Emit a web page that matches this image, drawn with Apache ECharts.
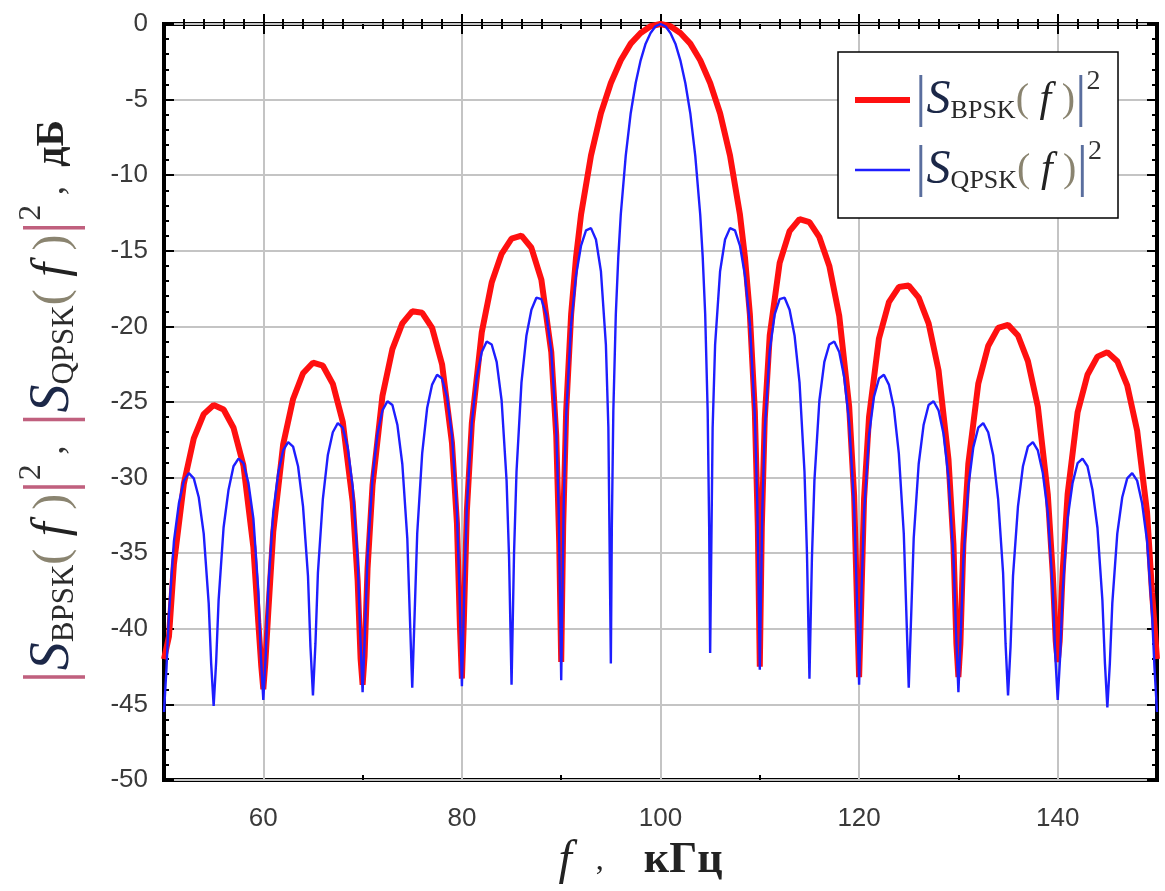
<!DOCTYPE html>
<html>
<head>
<meta charset="utf-8">
<script src="https://cdn.jsdelivr.net/npm/echarts@6/dist/echarts.min.js"></script>
<style>
html,body{margin:0;padding:0;background:#fff;}
#c{width:1165px;height:891px;}
</style>
</head>
<body>
<div id="c"></div>
<script>
// ---- data ----
const seriesNames = ['BPSK', 'QPSK'];
const xMajorTicks = [60, 80, 100, 120, 140];
const xMidTicks = [70, 90, 110, 130];
const xRange = [50, 150];
const yRange = [-50, 0];

// |S_BPSK(f)|^2, dB  : [f (kHz), level (dB)]
const bpsk = [
 [50,-42],[50.5,-40.5],[51,-35.7],[52,-30.4],[53,-27.4],[54,-25.8],[55,-25.2],[56,-25.5],[57,-26.7],[58,-29.2],[59,-34.6],[59.5,-39.6],[59.8,-42.5],
 [60,-44.0],[60.2,-42.3],[60.5,-38.9],[61,-33.6],[62,-27.8],[63,-24.8],[64,-23.1],[65,-22.4],[66,-22.6],[67,-23.8],[68,-26.3],[69,-31.6],[69.5,-36.8],[69.8,-42.0],
 [70,-43.7],[70.2,-41.8],[70.5,-36.0],[71,-30.5],[72,-24.6],[73,-21.5],[74,-19.8],[75,-19.0],[76,-19.1],[77,-20.1],[78,-22.5],[79,-27.7],[79.5,-33.0],[79.8,-39.8],
 [80,-43.3],[80.2,-39.4],[80.5,-32.2],[81,-26.4],[82,-20.4],[83,-17.1],[84,-15.2],[85,-14.2],[86,-14.0],[87,-14.8],[88,-16.9],[89,-21.7],[89.5,-27.2],[89.8,-34.3],
 [90,-42.2],[90.2,-33.2],[90.5,-25.6],[91,-19.2],[91.5,-15.4],[92,-12.6],[93,-8.7],[94,-5.9],[95,-3.9],[96,-2.4],[97,-1.3],[98,-0.6],[99,-0.15],
 [100,0],[101,-0.15],[102,-0.6],[103,-1.3],[104,-2.4],[105,-3.9],[106,-5.9],[107,-8.7],[108,-12.6],[108.5,-15.4],[109,-19.2],[109.5,-25.6],[109.8,-33.2],
 [110,-42.5],[110.2,-33.3],[110.5,-26.1],[111,-20.6],[112,-15.8],[113,-13.7],[114,-12.9],[115,-13.1],[116,-14.1],[117,-16.0],[118,-19.3],[119,-25.3],[119.5,-31.2],[119.8,-38.6],
 [120,-43.2],[120.2,-38.6],[120.5,-31.4],[121,-26.0],[122,-20.8],[123,-18.4],[124,-17.4],[125,-17.3],[126,-18.1],[127,-19.8],[128,-22.9],[129,-28.8],[129.5,-34.4],[129.8,-41.0],
 [130,-43.2],[130.2,-41.0],[130.5,-34.4],[131,-29.1],[132,-23.8],[133,-21.3],[134,-20.1],[135,-19.9],[136,-20.6],[137,-22.3],[138,-25.3],[139,-31.1],[139.5,-36.3],[139.8,-40.8],
 [140,-42.2],[140.2,-40.8],[140.5,-36.2],[141,-31.1],[142,-25.7],[143,-23.2],[144,-22.0],[145,-21.7],[146,-22.3],[147,-23.9],[148,-26.9],[149,-32.3],[149.5,-37.6],
 [150,-42]
];

// |S_QPSK(f)|^2, dB  : [f (kHz), level (dB)]
const qpsk = [
 [50,-45.5],[50.25,-42.6],[50.5,-39.0],[51,-34.2],[51.5,-31.7],[52,-30.2],[52.5,-29.7],[53,-30.05],[53.5,-31.3],[54,-33.7],[54.5,-38.3],[54.75,-42.3],
 [55,-45.1],[55.25,-42.2],[55.5,-38.1],[56,-33.3],[56.5,-30.8],[57,-29.25],[57.5,-28.75],[58,-29.05],[58.5,-30.35],[59,-32.7],[59.5,-37.5],[59.75,-41.8],
 [60,-44.7],[60.25,-41.7],[60.5,-37.3],[61,-32.3],[61.5,-29.7],[62,-28.2],[62.5,-27.65],[63,-27.95],[63.5,-29.25],[64,-31.9],[64.5,-36.5],[64.75,-41.2],
 [65,-44.4],[65.25,-41.0],[65.5,-36.3],[66,-31.4],[66.5,-28.5],[67,-27.0],[67.5,-26.4],[68,-26.7],[68.5,-28.0],[69,-30.6],[69.5,-35.4],[69.75,-40.2],
 [70,-44.2],[70.25,-40.0],[70.5,-35.2],[71,-30.0],[71.5,-27.1],[72,-25.55],[72.5,-24.95],[73,-25.2],[73.5,-26.5],[74,-29.1],[74.5,-34.0],[74.75,-39.0],
 [75,-43.9],[75.25,-38.8],[75.5,-33.7],[76,-28.4],[76.5,-25.4],[77,-23.85],[77.5,-23.2],[78,-23.45],[78.5,-24.65],[79,-27.2],[79.5,-32.3],[79.75,-37.4],
 [80,-43.8],[80.25,-37.2],[80.5,-31.9],[81,-26.35],[81.5,-23.35],[82,-21.7],[82.5,-21.0],[83,-21.2],[83.5,-22.35],[84,-24.9],[84.5,-30.2],[84.75,-35.3],
 [85,-43.7],[85.25,-35.0],[85.5,-29.6],[86,-23.7],[86.5,-20.6],[87,-18.9],[87.5,-18.1],[88,-18.2],[88.5,-19.2],[89,-21.6],[89.5,-26.8],[89.75,-32.2],
 [90,-43.4],[90.25,-31.8],[90.5,-25.9],[91,-19.85],[91.5,-16.6],[92,-14.65],[92.5,-13.65],[93,-13.5],[93.5,-14.25],[94,-16.35],[94.5,-21.2],[94.75,-26.7],
 [95,-42.3],[95.1,-33.2],[95.25,-25.6],[95.5,-19.2],[95.75,-15.4],[96,-12.6],[96.5,-8.7],[97,-5.9],[97.5,-3.9],[98,-2.4],[98.5,-1.3],[99,-0.6],[99.5,-0.15],
 [100,0],[100.5,-0.15],[101,-0.6],[101.5,-1.3],[102,-2.4],[102.5,-3.9],[103,-5.9],[103.5,-8.7],[104,-12.6],[104.25,-15.4],[104.5,-19.2],[104.75,-25.6],[104.9,-33.2],
 [105,-41.6],[105.25,-26.7],[105.5,-21.2],[106,-16.35],[106.5,-14.25],[107,-13.5],[107.5,-13.65],[108,-14.65],[108.5,-16.6],[109,-19.85],[109.5,-25.9],[109.75,-31.8],
 [110,-42.7],[110.25,-32.2],[110.5,-26.8],[111,-21.6],[111.5,-19.2],[112,-18.2],[112.5,-18.1],[113,-18.9],[113.5,-20.6],[114,-23.7],[114.5,-29.6],[114.75,-35.0],
 [115,-43.3],[115.25,-35.3],[115.5,-30.2],[116,-24.9],[116.5,-22.35],[117,-21.2],[117.5,-21.0],[118,-21.7],[118.5,-23.35],[119,-26.35],[119.5,-31.9],[119.75,-37.2],
 [120,-43.7],[120.25,-37.4],[120.5,-32.3],[121,-27.2],[121.5,-24.65],[122,-23.45],[122.5,-23.2],[123,-23.85],[123.5,-25.4],[124,-28.4],[124.5,-33.7],[124.75,-38.8],
 [125,-43.9],[125.25,-39.0],[125.5,-34.0],[126,-29.1],[126.5,-26.5],[127,-25.2],[127.5,-24.95],[128,-25.55],[128.5,-27.1],[129,-30.0],[129.5,-35.2],[129.75,-40.0],
 [130,-44.2],[130.25,-40.2],[130.5,-35.4],[131,-30.6],[131.5,-28.0],[132,-26.7],[132.5,-26.4],[133,-27.0],[133.5,-28.5],[134,-31.4],[134.5,-36.3],[134.75,-41.0],
 [135,-44.4],[135.25,-41.2],[135.5,-36.5],[136,-31.9],[136.5,-29.25],[137,-27.95],[137.5,-27.65],[138,-28.2],[138.5,-29.7],[139,-32.3],[139.5,-37.3],[139.75,-41.7],
 [140,-44.7],[140.25,-41.8],[140.5,-37.5],[141,-32.7],[141.5,-30.35],[142,-29.05],[142.5,-28.75],[143,-29.25],[143.5,-30.8],[144,-33.3],[144.5,-38.1],[144.75,-42.2],
 [145,-45.2],[145.25,-42.3],[145.5,-38.3],[146,-33.7],[146.5,-31.3],[147,-30.05],[147.5,-29.7],[148,-30.2],[148.5,-31.7],[149,-34.2],[149.5,-39.0],[149.75,-42.6],
 [150,-45.5]
];

// ---- chart ----
const chart = echarts.init(document.getElementById('c'), null, {renderer: 'canvas'});
const SERIF = '"Liberation Serif","DejaVu Serif",serif';
const SANS = '"Liberation Sans",Arial,sans-serif';
const RED = '#ff1010';
const BLUE = '#1e1eff';

const tickStyle = {color: '#000', width: 2};

function xAxisBase(pos, withLabels) {
  return {
    type: 'value', position: pos, min: xRange[0], max: xRange[1], interval: 10,
    axisLine: {show: false},
    axisTick: {show: true, inside: true, length: 10, lineStyle: tickStyle, customValues: xMajorTicks},
    minorTick: {show: true, splitNumber: 5, length: 5, lineStyle: tickStyle},
    axisLabel: withLabels ? {
      show: true, customValues: xMajorTicks, margin: 26, color: '#3a3a3a',
      fontFamily: SANS, fontSize: 26,
      formatter: v => (xMajorTicks.indexOf(v) >= 0 ? String(v) : '')
    } : {show: false},
    splitLine: withLabels ? {show: true, lineStyle: {color: '#c4c4c4', width: 2}} : {show: false}
  };
}
// short ticks at the odd tens (70, 90, ...)
function xMidAxis(pos) {
  return {
    type: 'value', position: pos, min: xRange[0], max: xRange[1], interval: 10,
    axisLine: {show: false},
    axisTick: {show: true, inside: true, length: 5, lineStyle: tickStyle, customValues: xMidTicks},
    minorTick: {show: false}, axisLabel: {show: false}, splitLine: {show: false}
  };
}

function yAxisBase(pos, withLabels) {
  return {
    type: 'value', position: pos, min: yRange[0], max: yRange[1], interval: 5,
    axisLine: {show: false},
    axisTick: {show: true, inside: true, length: 10, lineStyle: tickStyle},
    minorTick: {show: true, splitNumber: 5, length: 5, lineStyle: tickStyle},
    axisLabel: withLabels ? {show: true, margin: 16, color: '#3a3a3a', fontFamily: SANS, fontSize: 26} : {show: false},
    splitLine: withLabels ? {show: true, lineStyle: {color: '#c4c4c4', width: 2}} : {show: false}
  };
}

const xA0 = xAxisBase('bottom', true);
xA0.name = '{f|f}{c|   ,     }{u|кГц}';
xA0.nameLocation = 'middle';
xA0.nameGap = 44;
xA0.nameTextStyle = {
  padding: [0, 40, 0, 0],
  rich: {
    f: {fontFamily: SERIF, fontStyle: 'italic', fontSize: 48, color: '#222'},
    c: {fontFamily: SERIF, fontSize: 32, color: '#222'},
    u: {fontFamily: SERIF, fontWeight: 'bold', fontSize: 44, color: '#222'}
  }
};

const yA0 = yAxisBase('left', true);
yA0.name = '{bar||}{S|S}{sub|BPSK}{p|(}{f| f }{p|)}{bar||}{sup|2}{c| ,  }' +
           '{bar||}{S|S}{sub|QPSK}{p|(}{f| f }{p|)}{bar||}{sup|2}{c| ,  }{u|дБ}';
yA0.nameLocation = 'middle';
yA0.nameRotate = 90;
yA0.nameGap = 74;
yA0.nameTextStyle = {
  rich: {
    bar: {fontFamily: SERIF, fontSize: 68, color: '#c0607e', lineHeight: 74, verticalAlign: 'middle'},
    S: {fontFamily: SERIF, fontStyle: 'italic', fontSize: 56, color: '#1c2848', lineHeight: 74, verticalAlign: 'middle'},
    sub: {fontFamily: SERIF, fontSize: 31, color: '#2a2a2a', lineHeight: 31, verticalAlign: 'bottom', padding: [0, 0, 10, 0]},
    p: {fontFamily: SERIF, fontSize: 48, color: '#8a8470', lineHeight: 74, verticalAlign: 'middle'},
    f: {fontFamily: SERIF, fontStyle: 'italic', fontSize: 50, color: '#222', lineHeight: 74, verticalAlign: 'middle'},
    sup: {fontFamily: SERIF, fontSize: 32, color: '#333', lineHeight: 32, verticalAlign: 'top'},
    c: {fontFamily: SERIF, fontSize: 38, color: '#333', lineHeight: 74, verticalAlign: 'middle'},
    u: {fontFamily: SERIF, fontWeight: 'bold', fontSize: 40, color: '#222', lineHeight: 74, verticalAlign: 'middle'}
  }
};

const legendRich = {
  bar: {fontFamily: SERIF, fontSize: 58, color: '#5a6e9e', lineHeight: 64, verticalAlign: 'middle'},
  S: {fontFamily: SERIF, fontStyle: 'italic', fontSize: 48, color: '#1c2848', lineHeight: 64, verticalAlign: 'middle'},
  sub: {fontFamily: SERIF, fontSize: 26, color: '#2a2a2a', lineHeight: 26, verticalAlign: 'bottom', padding: [0, 0, 8, 0]},
  p: {fontFamily: SERIF, fontSize: 40, color: '#8a8470', lineHeight: 64, verticalAlign: 'middle'},
  f: {fontFamily: SERIF, fontStyle: 'italic', fontSize: 42, color: '#222', lineHeight: 64, verticalAlign: 'middle'},
  sup: {fontFamily: SERIF, fontSize: 28, color: '#333', lineHeight: 28, verticalAlign: 'top'}
};

chart.setOption({
  animation: false,
  backgroundColor: '#fff',
  grid: {left: 164, right: 8, top: 24, bottom: 111, show: true, borderColor: '#000', borderWidth: 4, backgroundColor: 'transparent'},
  xAxis: [xA0, xAxisBase('top', false), xMidAxis('bottom'), xMidAxis('top')],
  yAxis: [yA0, yAxisBase('right', false)],
  legend: {
    orient: 'vertical', left: 838, top: 52,
    backgroundColor: '#fff', borderColor: '#000', borderWidth: 1.5, borderRadius: 0,
    padding: [16, 16, 16, 14], itemGap: 6, itemWidth: 55, itemHeight: 14,
    itemStyle: {opacity: 0},
    data: [
      {name: seriesNames[0], lineStyle: {width: 6, color: RED}},
      {name: seriesNames[1], lineStyle: {width: 2.4, color: BLUE}}
    ],
    formatter: name => '{bar||}{S|S}{sub|' + name + '}{p|(}{f| f }{p|)}{bar||}{sup|2}',
    textStyle: {rich: legendRich}
  },
  series: [
    {name: seriesNames[0], type: 'line', data: bpsk, symbol: 'none', smooth: false,
     lineStyle: {color: RED, width: 6}, itemStyle: {color: RED}, z: 3},
    {name: seriesNames[1], type: 'line', data: qpsk, symbol: 'none', smooth: false,
     lineStyle: {color: BLUE, width: 2.4}, itemStyle: {color: BLUE}, z: 4}
  ]
});
</script>
</body>
</html>
